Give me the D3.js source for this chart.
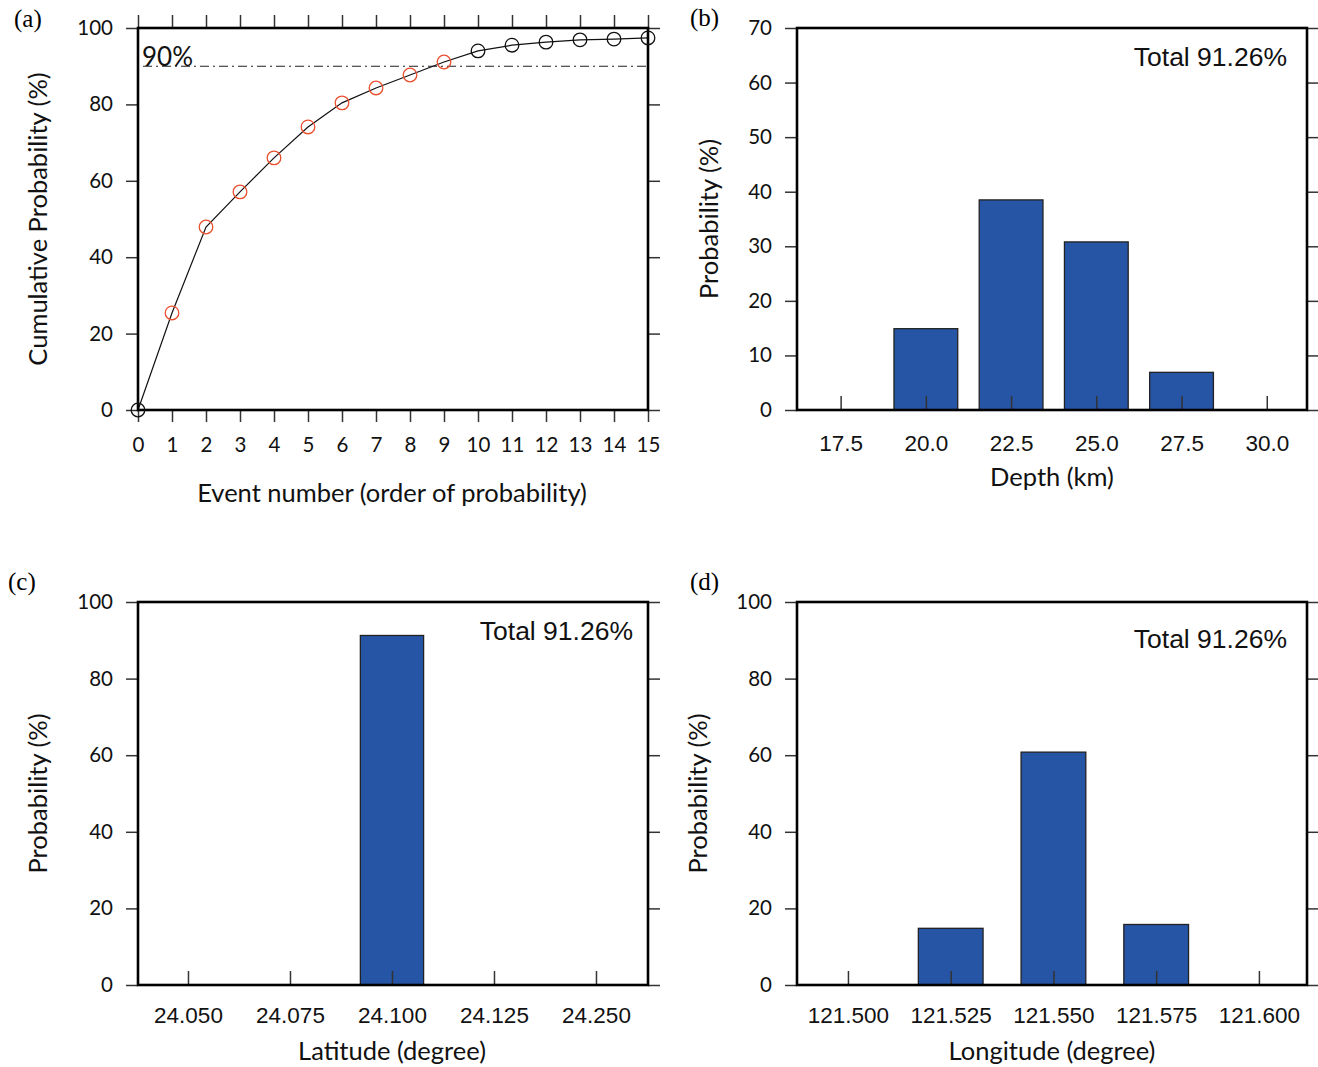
<!DOCTYPE html>
<html>
<head>
<meta charset="utf-8">
<script src="https://cdn.jsdelivr.net/npm/d3@7"></script>
<style>
  body { margin: 0; background: #fff; }
  .tick line { stroke: #333; stroke-width: 1.5; }
</style>
</head>
<body>
<div id="chart-area"></div>
<script>
// (a) cumulative probability by event
const eventNumbers = [0, 1, 2, 3, 4, 5, 6, 7, 8, 9, 10, 11, 12, 13, 14, 15]
const cumProb = [0, 25.4, 47.9, 57.1, 66.0, 74.1, 80.4, 84.3, 87.7, 91.1, 94.0, 95.5, 96.3, 96.9, 97.1, 97.4]
const selectedEvents = 9
const threshold = 90

// (b) depth
const depthTicks = [17.5, 20.0, 22.5, 25.0, 27.5, 30.0]
const depthProb = [0, 14.9, 38.5, 30.8, 6.9, 0]

// (c) latitude
const latLabels = ["24.050", "24.075", "24.100", "24.125", "24.250"]
const latProb = [0, 0, 91.26, 0, 0]

// (d) longitude
const lonTicks = [121.500, 121.525, 121.550, 121.575, 121.600]
const lonProb = [0, 14.8, 60.8, 15.8, 0]

const totalText = "Total 91.26%"

const W = 1318, H = 1067
const LABEL_FONT = "Lato, 'Open Sans', sans-serif"
const TICK_FONT = "'Liberation Sans', Arial, sans-serif"
const BLUE = "#2655a5"
const RED = "#e8502f"

const svg = d3.select("#chart-area").append("svg")
  .attr("width", W)
  .attr("height", H)

// panel boxes
const boxA = { x0: 138, x1: 648, y0: 28, y1: 410 }
const boxB = { x0: 797, x1: 1307, y0: 28, y1: 410 }
const boxC = { x0: 138, x1: 648, y0: 602, y1: 985 }
const boxD = { x0: 797, x1: 1307, y0: 602, y1: 985 }

function yAxes(box, y, ticks) {
  svg.append("g")
    .attr("transform", `translate(${box.x0},0)`)
    .call(d3.axisLeft(y).tickValues(ticks).tickSize(12).tickSizeOuter(0).tickPadding(13))
    .call(g => g.select(".domain").remove())
    .selectAll("text")
      .attr("font-family", LABEL_FONT)
      .attr("font-size", 20.5)
      .attr("fill", "#111")
  svg.append("g")
    .attr("transform", `translate(${box.x1},0)`)
    .call(d3.axisRight(y).tickValues(ticks).tickSize(12).tickFormat(""))
    .call(g => g.select(".domain").remove())
}

function frame(box) {
  svg.append("rect")
    .attr("x", box.x0)
    .attr("y", box.y0)
    .attr("width", box.x1 - box.x0)
    .attr("height", box.y1 - box.y0)
    .attr("fill", "none")
    .attr("stroke", "#000")
    .attr("stroke-width", 2.6)
}

function panelLabel(x, y, t) {
  svg.append("text")
    .attr("x", x).attr("y", y)
    .attr("font-family", "'Liberation Serif', 'Times New Roman', serif")
    .attr("font-size", 25)
    .text(t)
}

function axisTitle(x, y, t, rotate) {
  svg.append("text")
    .attr("text-anchor", "middle")
    .attr("font-family", LABEL_FONT)
    .attr("font-size", 25.5)
    .attr("fill", "#111")
    .attr("transform", rotate ? `translate(${x},${y}) rotate(-90)` : `translate(${x},${y})`)
    .text(t)
}

function totalLabel(x, y) {
  svg.append("text")
    .attr("x", x).attr("y", y)
    .attr("text-anchor", "end")
    .attr("font-family", TICK_FONT)
    .attr("font-size", 26.5)
    .attr("fill", "#111")
    .text(totalText)
}

function bars(box, x, y, xs, vals, width) {
  svg.append("g").selectAll("rect")
    .data(vals.map((v, i) => ({ x: xs[i], v: v })).filter(d => d.v > 0))
    .enter().append("rect")
      .attr("x", d => x(d.x - width / 2))
      .attr("y", d => y(d.v))
      .attr("width", d => x(d.x + width / 2) - x(d.x - width / 2))
      .attr("height", d => y(0) - y(d.v))
      .attr("fill", BLUE)
      .attr("stroke", "#222")
      .attr("stroke-width", 1.3)
}

function bottomInward(box, x, ticks, fmt, pad) {
  svg.append("g")
    .attr("transform", `translate(0,${box.y1})`)
    .call(d3.axisBottom(x).tickValues(ticks).tickSizeInner(-14).tickSizeOuter(0).tickPadding(pad).tickFormat(fmt))
    .call(g => g.select(".domain").remove())
    .selectAll("text")
      .attr("font-family", TICK_FONT)
      .attr("font-size", 22.5)
      .attr("fill", "#111")
}

// ---------------- Panel (a)
{
  const x = d3.scaleLinear().domain([0, 15]).range([boxA.x0, boxA.x1])
  const y = d3.scaleLinear().domain([0, 100]).range([boxA.y1, boxA.y0])

  yAxes(boxA, y, [0, 20, 40, 60, 80, 100])

  svg.append("g")
    .attr("transform", `translate(0,${boxA.y1})`)
    .call(d3.axisBottom(x).tickValues(eventNumbers).tickSize(12).tickSizeOuter(0).tickPadding(15).tickFormat(d3.format("d")))
    .call(g => g.select(".domain").remove())
    .selectAll("text")
      .attr("font-family", LABEL_FONT)
      .attr("font-size", 20.5)
      .attr("fill", "#111")
  svg.append("g")
    .attr("transform", `translate(0,${boxA.y0})`)
    .call(d3.axisTop(x).tickValues(eventNumbers).tickSize(13).tickFormat(""))
    .call(g => g.select(".domain").remove())

  // 90% line
  svg.append("line")
    .attr("x1", x(0) + 5).attr("x2", x(15))
    .attr("y1", y(threshold)).attr("y2", y(threshold))
    .attr("stroke", "#222")
    .attr("stroke-width", 1.1)
    .attr("stroke-dasharray", "9,4,2,4")
  svg.append("text")
    .attr("x", x(0) + 4).attr("y", y(threshold))
    .attr("font-family", LABEL_FONT)
    .attr("font-size", 26)
    .attr("fill", "#111")
    .text(threshold + "%")

  const line = d3.line()
    .x((d, i) => x(eventNumbers[i]))
    .y(d => y(d))
  svg.append("path")
    .datum(cumProb)
    .attr("d", line)
    .attr("fill", "none")
    .attr("stroke", "#111")
    .attr("stroke-width", 1.2)

  frame(boxA)

  svg.append("g").selectAll("circle")
    .data(cumProb)
    .enter().append("circle")
      .attr("cx", (d, i) => x(eventNumbers[i]))
      .attr("cy", d => y(d))
      .attr("r", 6.8)
      .attr("fill", "none")
      .attr("stroke", (d, i) => (i >= 1 && i <= selectedEvents) ? RED : "#111")
      .attr("stroke-width", 1.3)

  axisTitle(47, (boxA.y0 + boxA.y1) / 2, "Cumulative Probability (%)", true)
  axisTitle(392, 502, "Event number (order of probability)")
  panelLabel(14, 27, "(a)")
}

// ---------------- Panel (b)
{
  const x = d3.scaleLinear().domain([16.22, 31.18]).range([boxB.x0, boxB.x1])
  const y = d3.scaleLinear().domain([0, 70]).range([boxB.y1, boxB.y0])

  yAxes(boxB, y, [0, 10, 20, 30, 40, 50, 60, 70])
  bars(boxB, x, y, depthTicks, depthProb, 1.87)
  bottomInward(boxB, x, depthTicks, d3.format(".1f"), 25.5)
  frame(boxB)
  totalLabel(1287, 66)

  axisTitle(718, (boxB.y0 + boxB.y1) / 2, "Probability (%)", true)
  axisTitle(1052, 486, "Depth (km)")
  panelLabel(690, 26, "(b)")
}

// ---------------- Panel (c)
{
  const idx = latLabels.map((d, i) => i)
  const x = d3.scaleLinear().domain([-0.49, 4.51]).range([boxC.x0, boxC.x1])
  const y = d3.scaleLinear().domain([0, 100]).range([boxC.y1, boxC.y0])

  yAxes(boxC, y, [0, 20, 40, 60, 80, 100])
  bars(boxC, x, y, idx, latProb, 0.62)
  bottomInward(boxC, x, idx, i => latLabels[i], 22)
  frame(boxC)
  totalLabel(633, 640)

  axisTitle(47, (boxC.y0 + boxC.y1) / 2, "Probability (%)", true)
  axisTitle(392, 1060, "Latitude (degree)")
  panelLabel(8, 590, "(c)")
}

// ---------------- Panel (d)
{
  const x = d3.scaleLinear().domain([121.4876, 121.6117]).range([boxD.x0, boxD.x1])
  const y = d3.scaleLinear().domain([0, 100]).range([boxD.y1, boxD.y0])

  yAxes(boxD, y, [0, 20, 40, 60, 80, 100])
  bars(boxD, x, y, lonTicks, lonProb, 0.01575)
  bottomInward(boxD, x, lonTicks, d3.format(".3f"), 22)
  frame(boxD)
  totalLabel(1287, 648)

  axisTitle(707, (boxD.y0 + boxD.y1) / 2, "Probability (%)", true)
  axisTitle(1052, 1060, "Longitude (degree)")
  panelLabel(690, 590, "(d)")
}
</script>
</body>
</html>
